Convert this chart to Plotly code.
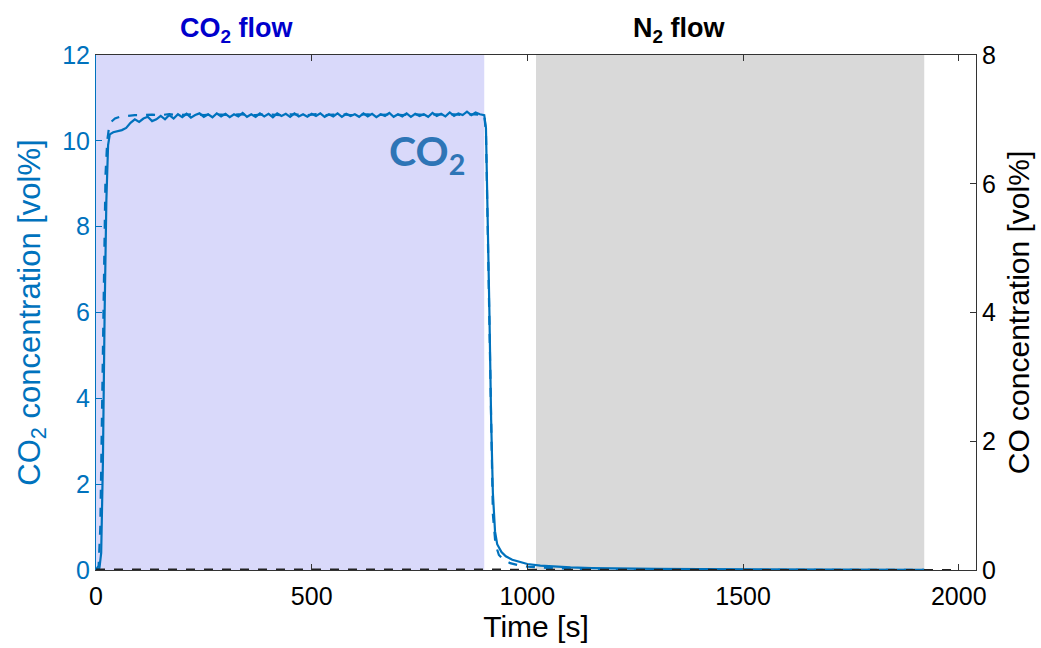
import plotly.graph_objects as go

# Measured CO2 outlet concentration (solid) [s, vol%]
t_meas = [0, 8, 12, 16, 20, 24, 28, 32, 40, 50, 60, 70, 80, 90, 100, 110, 120, 130, 140,
          150, 160, 170, 180, 190, 200, 210, 220, 230, 240, 250, 260, 270, 280, 290, 300,
          310, 320, 330, 340, 350, 360, 370, 380, 390, 400, 410, 420, 430, 440, 450, 460,
          470, 480, 490, 500, 510, 520, 530, 540, 550, 560, 570, 580, 590, 600, 610, 620,
          630, 640, 650, 660, 670, 680, 690, 700, 710, 720, 730, 740, 750, 760, 770, 780,
          790, 800, 810, 820, 830, 840, 850, 860, 870, 880, 890, 900, 904, 908, 912, 916,
          920, 925, 930, 940, 950, 965, 980, 1000, 1030, 1060, 1100, 1150, 1200, 1300,
          1400, 1500, 1600, 1700, 1800, 1920]
co2_meas = [0.0, 0.05, 0.4, 2.5, 6.0, 8.6, 9.9, 10.15, 10.2, 10.22, 10.25, 10.3, 10.42,
            10.5, 10.44, 10.52, 10.56, 10.46, 10.5, 10.58, 10.5, 10.6, 10.52, 10.62,
            10.55, 10.63, 10.54, 10.6, 10.64, 10.56, 10.62, 10.55, 10.64, 10.57, 10.63,
            10.55, 10.62, 10.57, 10.65, 10.56, 10.62, 10.56, 10.64, 10.57, 10.63, 10.55,
            10.64, 10.58, 10.63, 10.56, 10.64, 10.57, 10.62, 10.56, 10.63, 10.58, 10.64,
            10.56, 10.62, 10.57, 10.64, 10.56, 10.63, 10.58, 10.62, 10.56, 10.64, 10.57,
            10.63, 10.55, 10.62, 10.58, 10.65, 10.56, 10.62, 10.57, 10.64, 10.56, 10.63,
            10.58, 10.62, 10.56, 10.65, 10.58, 10.63, 10.57, 10.66, 10.58, 10.64, 10.6,
            10.68, 10.6, 10.66, 10.62, 10.6, 10.3, 8.5, 6.0, 3.5, 1.8, 0.9, 0.6, 0.42,
            0.32, 0.24, 0.19, 0.14, 0.1, 0.08, 0.06, 0.045, 0.035, 0.025, 0.02, 0.015,
            0.012, 0.01, 0.008, 0.006]

# Simulated CO2 outlet concentration (dashed) [s, vol%]
t_sim = [0, 6, 10, 14, 18, 22, 26, 30, 36, 44, 55, 70, 90, 110, 130, 150, 170, 190, 210,
         230, 250, 270, 290, 310, 330, 350, 370, 390, 410, 430, 450, 470, 490, 510, 530,
         550, 570, 590, 610, 630, 650, 670, 690, 710, 730, 750, 770, 790, 810, 830, 850,
         870, 890, 900, 904, 908, 912, 916, 920, 926, 934, 945, 960, 980, 1000, 1030, 1060,
         1100, 1150, 1200, 1300, 1400, 1500, 1600, 1700, 1800, 1920]
co2_sim = [0.0, 0.1, 1.0, 4.0, 7.2, 9.2, 10.0, 10.3, 10.45, 10.52, 10.56, 10.58, 10.6,
           10.6, 10.61, 10.6, 10.62, 10.6, 10.61, 10.62, 10.6, 10.62, 10.61, 10.6, 10.62,
           10.61, 10.6, 10.62, 10.61, 10.6, 10.62, 10.61, 10.6, 10.62, 10.6, 10.61, 10.62,
           10.6, 10.61, 10.62, 10.6, 10.61, 10.62, 10.6, 10.62, 10.61, 10.6, 10.62, 10.61,
           10.62, 10.6, 10.62, 10.61, 10.6, 10.2, 8.0, 5.2, 2.8, 1.3, 0.6, 0.35, 0.24,
           0.16, 0.11, 0.08, 0.055, 0.04, 0.03, 0.022, 0.016, 0.01, 0.007, 0.005, 0.004,
           0.003, 0.002, 0.002]

# CO concentration, right axis [s, vol%]
t_co = [0, 200, 400, 600, 800, 900, 1000, 1200, 1400, 1600, 1800, 2000]
co_conc = [0.01, 0.012, 0.01, 0.011, 0.01, 0.012, 0.008, 0.005, 0.004, 0.003, 0.003, 0.003]

# Gas-feed periods [s]
co2_period = [0, 900]
n2_period = [1020, 1920]

line_blue = "#0072BD"
font_family = "Liberation Sans, Arial, sans-serif"

fig = go.Figure()

fig.add_trace(go.Scatter(x=t_meas, y=co2_meas, mode="lines",
                         line=dict(color=line_blue, width=2.2), showlegend=False))
fig.add_trace(go.Scatter(x=t_sim, y=co2_sim, mode="lines",
                         line=dict(color=line_blue, width=2.2, dash="dash"),
                         showlegend=False))
fig.add_trace(go.Scatter(x=t_co, y=co_conc, mode="lines", yaxis="y2",
                         line=dict(color="#222222", width=1.5, dash="dash"),
                         showlegend=False))

fig.add_shape(type="rect", xref="x", yref="paper", x0=co2_period[0], x1=co2_period[1],
              y0=0, y1=1, fillcolor="#D9D9FA", line=dict(width=0), layer="below")
fig.add_shape(type="rect", xref="x", yref="paper", x0=n2_period[0], x1=n2_period[1],
              y0=0, y1=1, fillcolor="#D9D9D9", line=dict(width=0), layer="below")

fig.add_annotation(x=327, y=1.0, xref="x", yref="paper", yanchor="bottom", yshift=6,
                   text="<b>CO<sub>2</sub> flow</b>", showarrow=False,
                   font=dict(family=font_family, size=27, color="#0000CC"))
fig.add_annotation(x=1353, y=1.0, xref="x", yref="paper", yanchor="bottom", yshift=6,
                   text="<b>N<sub>2</sub> flow</b>", showarrow=False,
                   font=dict(family=font_family, size=27, color="#000000"))
fig.add_annotation(x=768, y=9.7, xref="x", yref="y", text="<b>CO<sub>2</sub></b>",
                   showarrow=False,
                   font=dict(family="Lato, sans-serif", size=41, color="#2E75B6"))

fig.update_layout(
    width=1041, height=648,
    margin=dict(l=96, r=65, t=55, b=78),
    plot_bgcolor="white", paper_bgcolor="white",
    font=dict(family=font_family, size=25, color="#000000"),
    xaxis=dict(range=[0, 2040], tickvals=[0, 500, 1000, 1500, 2000],
               ticks="inside", ticklen=6, tickcolor="#333333",
               showline=True, linecolor="#333333", linewidth=1, mirror="ticks",
               tickfont=dict(size=25), ticklabelstandoff=4,
               showgrid=False, zeroline=False,
               title=dict(text="Time [s]", standoff=2, font=dict(size=30))),
    yaxis=dict(range=[0, 12], tickvals=[0, 2, 4, 6, 8, 10, 12],
               ticks="inside", ticklen=6, tickcolor=line_blue,
               showline=True, linecolor=line_blue, linewidth=1,
               tickfont=dict(color=line_blue, size=25),
               showgrid=False, zeroline=False,
               title=dict(text="CO<sub>2</sub> concentration [vol%]", standoff=12,
                          font=dict(color=line_blue, size=31))),
    yaxis2=dict(range=[0, 8], tickvals=[0, 2, 4, 6, 8], overlaying="y", side="right",
                ticks="inside", ticklen=6, tickcolor="#333333",
                showline=True, linecolor="#333333", linewidth=1,
                tickfont=dict(color="#000000", size=25),
                showgrid=False, zeroline=False,
                title=dict(text="CO concentration [vol%]", standoff=12,
                           font=dict(color="#000000", size=30))),
)

fig.write_html("out.html")
